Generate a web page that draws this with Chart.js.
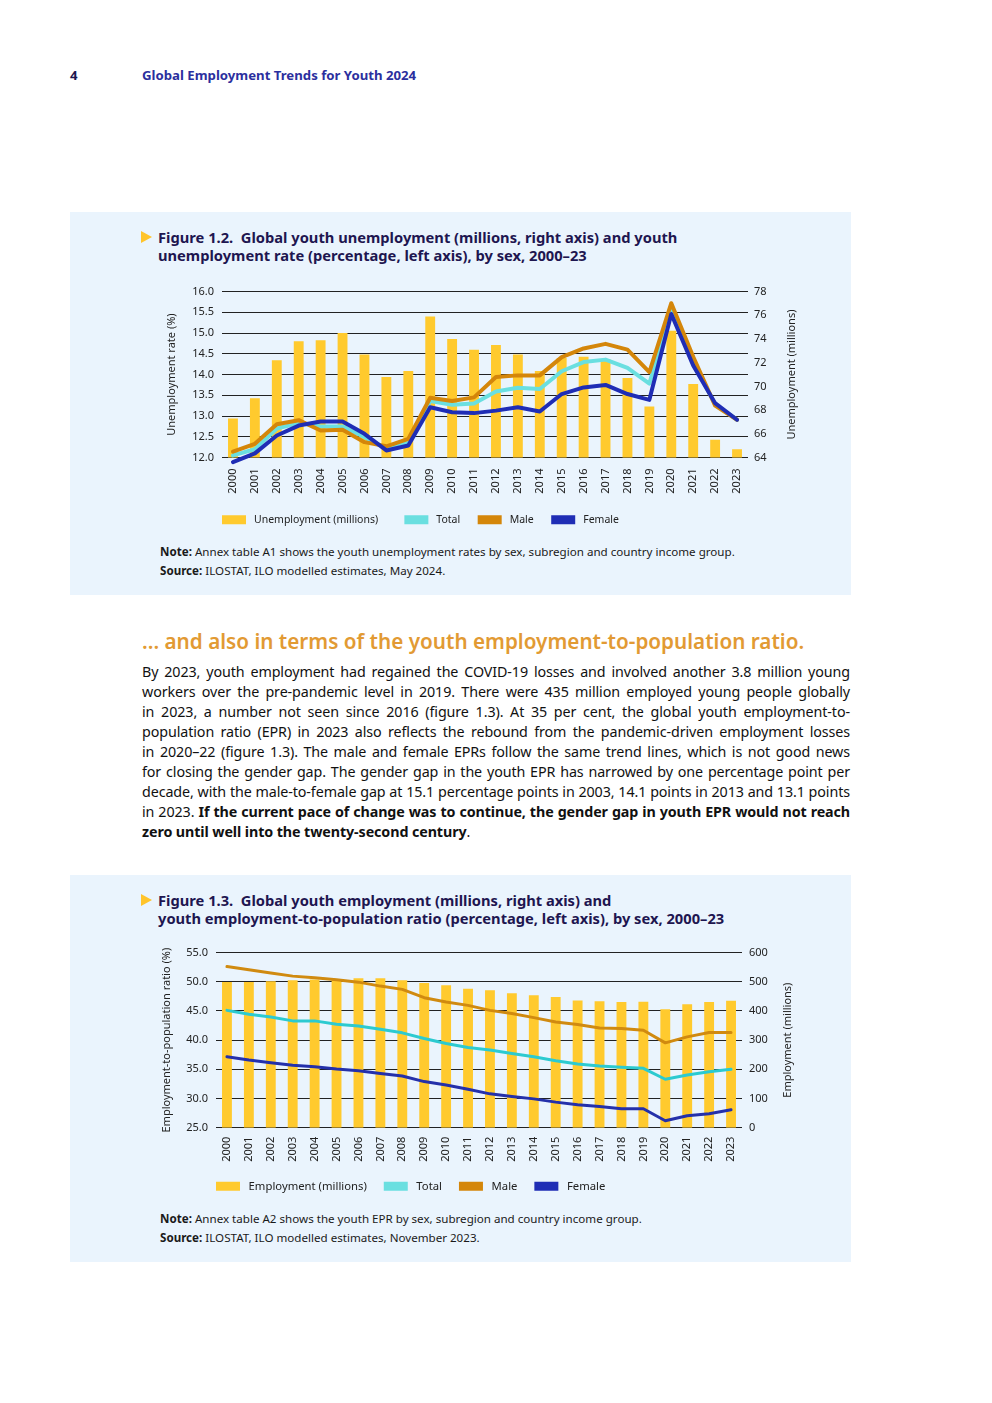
<!DOCTYPE html>
<html>
<head>
<meta charset="utf-8">
<title>Global Employment Trends for Youth 2024</title>
<script src="https://cdn.jsdelivr.net/npm/chart.js@4.4.1/dist/chart.umd.min.js"></script>
<style>
  body { margin: 0; background: #fff; font-family: 'Noto Sans', sans-serif; color: #1a1a1a; }
  .page { position: relative; width: 992px; height: 1403px; overflow: hidden; }
  .abs { position: absolute; }
  .pagenum { left: 70px; top: 67px; line-height: 16px; font-size: 13.2px; font-weight: 700; color: #1e1650; }
  .runhead { left: 142px; top: 67px; line-height: 16px; font-size: 13.2px; font-weight: 700; color: #2b2f9e; }
  .panel { left: 70px; width: 781px; background: #eaf4fd; }
  .tri { width: 0; height: 0; border-left: 11px solid #ffc42b; border-top: 6px solid transparent; border-bottom: 6px solid transparent; }
  .figtitle { left: 158px; font-size: 14.7px; font-weight: 700; line-height: 18px; color: #1e1650; white-space: nowrap; }
  .note { left: 160px; font-size: 11.6px; line-height: 19px; color: #1a1a1a; white-space: nowrap; }
  .heading { left: 142px; top: 628px; font-size: 20.7px; line-height: 26px; font-weight: 600; color: #e29a33; white-space: nowrap; }
  .body { left: 142px; top: 662px; width: 708px; font-size: 14.3px; line-height: 20px; color: #111; letter-spacing: -0.1px; }
  .body div { text-align: justify; text-align-last: justify; }
  .body div.last { text-align-last: left; }
  canvas { position: absolute; }
</style>
</head>
<body>
<div class="page">
  <div class="abs pagenum">4</div>
  <div class="abs runhead">Global Employment Trends for Youth 2024</div>

  <!-- Figure 1.2 panel -->
  <div class="abs panel" style="top:212px; height:383px;"></div>
  <div class="abs tri" style="left:141px; top:231px;"></div>
  <div class="abs figtitle" style="top:228px;">Figure 1.2.&nbsp; Global youth unemployment (millions, right axis) and youth<br>unemployment rate (percentage, left axis), by sex, 2000–23</div>
  <canvas id="chart1" width="650" height="258" style="left:160px; top:277px;"></canvas>
  <div class="abs note" style="top:542px;"><b>Note:</b> Annex table A1 shows the youth unemployment rates by sex, subregion and country income group.<br><b>Source:</b> ILOSTAT, ILO modelled estimates, May 2024.</div>

  <!-- Text -->
  <div class="abs heading">... and also in terms of the youth employment-to-population ratio.</div>
  <div class="abs body">
    <div>By 2023, youth employment had regained the COVID-19 losses and involved another 3.8 million young</div>
    <div>workers over the pre-pandemic level in 2019. There were 435 million employed young people globally</div>
    <div>in 2023, a number not seen since 2016 (figure 1.3). At 35 per cent, the global youth employment-to-</div>
    <div>population ratio (EPR) in 2023 also reflects the rebound from the pandemic-driven employment losses</div>
    <div>in 2020–22 (figure 1.3). The male and female EPRs follow the same trend lines, which is not good news</div>
    <div>for closing the gender gap. The gender gap in the youth EPR has narrowed by one percentage point per</div>
    <div>decade, with the male-to-female gap at 15.1 percentage points in 2003, 14.1 points in 2013 and 13.1 points</div>
    <div>in 2023. <b>If the current pace of change was to continue, the gender gap in youth EPR would not reach</b></div>
    <div class="last"><b>zero until well into the twenty-second century</b>.</div>
  </div>

  <!-- Figure 1.3 panel -->
  <div class="abs panel" style="top:875px; height:387px;"></div>
  <div class="abs tri" style="left:141px; top:894px;"></div>
  <div class="abs figtitle" style="top:891px;">Figure 1.3.&nbsp; Global youth employment (millions, right axis) and<br>youth employment-to-population ratio (percentage, left axis), by sex, 2000–23</div>
  <canvas id="chart2" width="644" height="264" style="left:156px; top:938px;"></canvas>
  <div class="abs note" style="top:1209px;"><b>Note:</b> Annex table A2 shows the youth EPR by sex, subregion and country income group.<br><b>Source:</b> ILOSTAT, ILO modelled estimates, November 2023.</div>
</div>

<script>
// -------------------------------
// Data
// -------------------------------
const years = ["2000", "2001", "2002", "2003", "2004", "2005", "2006", "2007", "2008", "2009", "2010", "2011",
  "2012", "2013", "2014", "2015", "2016", "2017", "2018", "2019", "2020", "2021", "2022", "2023"];

// Figure 1.2
const unempMillions = [67.3, 69.0, 72.2, 73.8, 73.9, 74.5, 72.7, 70.8, 71.3, 75.9, 74.0, 73.1,
  73.5, 72.7, 71.3, 72.4, 72.5, 72.3, 70.7, 68.3, 74.7, 70.2, 65.5, 64.7];
const unempRateTotal = [12.05, 12.2, 12.7, 12.83, 12.75, 12.75, 12.49, 12.22, 12.37, 13.36, 13.27, 13.3,
  13.59, 13.68, 13.65, 14.08, 14.3, 14.36, 14.16, 13.78, 15.6, 14.3, 13.28, 12.91];
const unempRateMale = [12.14, 12.33, 12.8, 12.9, 12.65, 12.67, 12.37, 12.27, 12.45, 13.44, 13.36, 13.45,
  13.94, 13.98, 13.98, 14.42, 14.63, 14.74, 14.6, 14.06, 15.72, 14.43, 13.25, 12.91];
const unempRateFemale = [11.89, 12.1, 12.53, 12.77, 12.87, 12.87, 12.57, 12.17, 12.29, 13.21, 13.09, 13.07,
  13.13, 13.21, 13.11, 13.53, 13.69, 13.75, 13.53, 13.39, 15.46, 14.22, 13.31, 12.91];

// Figure 1.3
const employMillions = [499, 499, 502, 505, 508, 508, 512, 512, 505, 496, 488, 476,
  471, 461, 454, 448, 436, 433, 431, 431.2, 406, 423, 431, 435];
const eprTotal = [45.1, 44.43, 43.97, 43.3, 43.3, 42.73, 42.44, 41.87, 41.25, 40.29, 39.43, 38.75,
  38.3, 37.73, 37.16, 36.47, 35.9, 35.57, 35.34, 35.17, 33.3, 34.03, 34.6, 35.0];
const eprMale = [52.6, 52.05, 51.5, 50.97, 50.68, 50.34, 49.94, 49.26, 48.7, 47.27, 46.53, 45.96,
  45.1, 44.55, 43.86, 43.1, 42.67, 42.1, 41.99, 41.7, 39.54, 40.56, 41.3, 41.3];
const eprFemale = [37.16, 36.6, 36.13, 35.7, 35.45, 35.06, 34.77, 34.3, 33.87, 32.9, 32.33, 31.6,
  30.8, 30.34, 29.94, 29.38, 28.92, 28.63, 28.24, 28.24, 26.2, 27.05, 27.39, 28.07];

// Tick settings
const rateTicks = { min: 12, max: 16, step: 0.5 };
const unempTicks = { min: 64, max: 78, step: 2 };
const eprTicks = { min: 25, max: 55, step: 5 };
const employTicks = { min: 0, max: 600, step: 100 };

// -------------------------------
// Shared bits
// -------------------------------
Chart.defaults.font.family = "'Noto Sans', sans-serif";
Chart.defaults.font.size = 11;
Chart.defaults.color = "#222";

// right axis title, reading bottom to top like the left one
const rightTitle = {
  id: "rightTitle",
  afterDraw(chart, args, opts) {
    const ctx = chart.ctx;
    const area = chart.chartArea;
    ctx.save();
    ctx.translate(opts.x, (area.top + area.bottom) / 2);
    ctx.rotate(-Math.PI / 2);
    ctx.font = "11px 'Noto Sans', sans-serif";
    ctx.fillStyle = "#222";
    ctx.textAlign = "center";
    ctx.textBaseline = "middle";
    ctx.fillText(opts.text, 0, 0);
    ctx.restore();
  }
};

// legend boxes filled with the series colour, spacing made with spaces round the text
function legendItems(chart) {
  return chart.data.datasets.map((ds, i) => ({
    text: " " + ds.label + (ds.legendGap || chart.options.plugins.legend.gap),
    fillStyle: ds.legendColor,
    strokeStyle: ds.legendColor,
    lineWidth: 0,
    fontColor: "#222",
    datasetIndex: i
  }));
}

function lineSet(label, data, color, legendColor, width, order) {
  return {
    type: "line",
    label: label,
    data: data,
    yAxisID: "y",
    borderColor: color,
    backgroundColor: color,
    legendColor: legendColor,
    borderWidth: width,
    pointRadius: 0,
    tension: 0,
    borderJoinStyle: "round",
    borderCapStyle: "round",
    clip: false,
    order: order
  };
}

function makeOptions(cfg) {
  return {
    responsive: false,
    animation: false,
    layout: { padding: { top: 0, left: 0, right: 0, bottom: 0 } },
    plugins: {
      legend: {
        position: "bottom",
        align: "start",
        fullSize: false,
        gap: cfg.legendGap,
        labels: { boxWidth: 24, boxHeight: 9, padding: 0, font: { size: cfg.legendSize }, generateLabels: legendItems }
      },
      tooltip: { enabled: false },
      rightTitle: { text: cfg.rightTitle, x: cfg.rightTitleX }
    },
    scales: {
      x: {
        grid: { display: false },
        border: { display: false },
        ticks: { maxRotation: 90, minRotation: 90, autoSkip: false, padding: cfg.xPad },
        afterFit: (s) => { s.height = cfg.xHeight; }
      },
      y: {
        position: "left",
        min: cfg.left.min,
        max: cfg.left.max,
        border: { display: false },
        grid: { color: "#222", lineWidth: 1, drawTicks: false },
        ticks: { stepSize: cfg.left.step, padding: 8, callback: (v) => v.toFixed(1) },
        title: { display: true, text: cfg.leftTitle, padding: { top: cfg.titlePad, bottom: 0 } },
        afterFit: (s) => { s.width = cfg.leftWidth; }
      },
      y1: {
        position: "right",
        min: cfg.right.min,
        max: cfg.right.max,
        border: { display: false },
        grid: { display: false, drawTicks: false },
        ticks: { stepSize: cfg.right.step, padding: cfg.rightPad },
        afterFit: (s) => { s.width = cfg.rightWidth; }
      }
    }
  };
}

// -------------------------------
// Figure 1.2
// -------------------------------
new Chart(document.getElementById("chart1"), {
  type: "bar",
  data: {
    labels: years,
    datasets: [
      {
        label: "Unemployment (millions)",
        data: unempMillions,
        yAxisID: "y1",
        backgroundColor: "#ffca2e",
        legendColor: "#ffca2e",
        legendGap: "\u2003\u2003\u2002",
        barPercentage: 0.45,
        categoryPercentage: 1,
        order: 4
      },
      lineSet("Total", unempRateTotal, "#6adfe0", "#6adfe0", 4, 3),
      lineSet("Male", unempRateMale, "#d4860a", "#d4860a", 4, 2),
      lineSet("Female", unempRateFemale, "#1f2db5", "#1f2db5", 4, 1)
    ]
  },
  options: makeOptions({
    xHeight: 57, xPad: 3, leftWidth: 62, rightWidth: 62, rightPad: 6, titlePad: 5,
    legendSize: 10.5, legendGap: "\u2003\u2002\u2009",
    left: rateTicks, right: unempTicks,
    leftTitle: "Unemployment rate (%)",
    rightTitle: "Unemployment (millions)", rightTitleX: 632
  }),
  plugins: [rightTitle]
});

// -------------------------------
// Figure 1.3
// -------------------------------
new Chart(document.getElementById("chart2"), {
  type: "bar",
  data: {
    labels: years,
    datasets: [
      {
        label: "Employment (millions)",
        data: employMillions,
        yAxisID: "y1",
        backgroundColor: "#ffca2e",
        legendColor: "#ffca2e",
        barPercentage: 0.45,
        categoryPercentage: 1,
        order: 4
      },
      lineSet("Total", eprTotal, "#2ccad0", "#6adfe0", 3, 3),
      lineSet("Male", eprMale, "#d08a10", "#d4860a", 3, 2),
      lineSet("Female", eprFemale, "#2430aa", "#1f2db5", 3, 1)
    ]
  },
  options: makeOptions({
    xHeight: 53, xPad: 1, leftWidth: 60, rightWidth: 58, rightPad: 7, titlePad: 4,
    legendSize: 11.3, legendGap: "\u2003\u2002",
    left: eprTicks, right: employTicks,
    leftTitle: "Employment-to-population ratio (%)",
    rightTitle: "Employment (millions)", rightTitleX: 632
  }),
  plugins: [rightTitle]
});
</script>
</body>
</html>
